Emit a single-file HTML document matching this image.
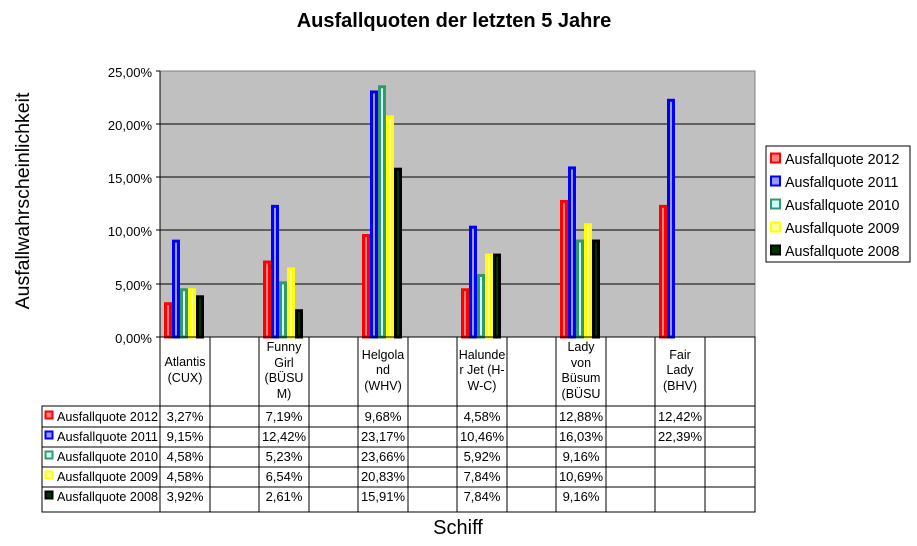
<!DOCTYPE html>
<html><head><meta charset="utf-8"><style>
html,body{margin:0;padding:0;background:#fff;}
svg{display:block;font-family:"Liberation Sans",Arial,sans-serif;}
</style></head><body>
<svg width="917" height="546" viewBox="0 0 917 546" xmlns="http://www.w3.org/2000/svg">
<text x="454" y="27" font-size="20" font-weight="bold" text-anchor="middle">Ausfallquoten der letzten 5 Jahre</text>
<text transform="translate(29,201) rotate(-90)" font-size="19.5" text-anchor="middle">Ausfallwahrscheinlichkeit</text>
<text x="458" y="534" font-size="20" text-anchor="middle">Schiff</text>
<rect x="160" y="71" width="595" height="266" fill="#c0c0c0" stroke="#808080" stroke-width="1"/>
<g stroke="#000" stroke-width="1">
<line x1="160" y1="124" x2="755" y2="124"/><line x1="160" y1="177" x2="755" y2="177"/>
<line x1="160" y1="230" x2="755" y2="230"/><line x1="160" y1="284" x2="755" y2="284"/>
<line x1="160" y1="71" x2="160" y2="337"/>
<line x1="156" y1="71" x2="160" y2="71"/><line x1="156" y1="124" x2="160" y2="124"/><line x1="156" y1="177" x2="160" y2="177"/><line x1="156" y1="230" x2="160" y2="230"/><line x1="156" y1="284" x2="160" y2="284"/><line x1="156" y1="337" x2="160" y2="337"/>
</g>
<g font-size="13" text-anchor="end">
<text x="152" y="77">25,00%</text><text x="152" y="130">20,00%</text><text x="152" y="183">15,00%</text><text x="152" y="236">10,00%</text><text x="152" y="290">5,00%</text><text x="152" y="343">0,00%</text>
</g>
<g id="bars" stroke-width="3"></g>
<g stroke="#000" stroke-width="1" fill="none">
<rect x="160" y="337" width="595" height="69"/>
<rect x="42" y="406" width="713" height="106"/>
<line x1="42" y1="427" x2="755" y2="427"/><line x1="42" y1="447" x2="755" y2="447"/><line x1="42" y1="467" x2="755" y2="467"/><line x1="42" y1="487" x2="755" y2="487"/>
<line x1="160" y1="406" x2="160" y2="512"/>
<line x1="210" y1="337" x2="210" y2="512"/><line x1="259" y1="337" x2="259" y2="512"/><line x1="309" y1="337" x2="309" y2="512"/><line x1="358" y1="337" x2="358" y2="512"/><line x1="408" y1="337" x2="408" y2="512"/><line x1="457" y1="337" x2="457" y2="512"/><line x1="507" y1="337" x2="507" y2="512"/><line x1="556" y1="337" x2="556" y2="512"/><line x1="606" y1="337" x2="606" y2="512"/><line x1="655" y1="337" x2="655" y2="512"/><line x1="705" y1="337" x2="705" y2="512"/>
</g>
<g font-size="12.5" text-anchor="middle">
<text x="185" y="366">Atlantis</text><text x="185" y="382">(CUX)</text>
<text x="284" y="351">Funny</text><text x="284" y="367">Girl</text><text x="284" y="382">(BÜSU</text><text x="284" y="398">M)</text>
<text x="383" y="359">Helgola</text><text x="383" y="374">nd</text><text x="383" y="390">(WHV)</text>
<text x="482" y="359">Halunde</text><text x="482" y="374">r Jet (H-</text><text x="482" y="390">W-C)</text>
<text x="581" y="351">Lady</text><text x="581" y="367">von</text><text x="581" y="382">Büsum</text><text x="581" y="398">(BÜSU</text>
<text x="680" y="359">Fair</text><text x="680" y="374">Lady</text><text x="680" y="390">(BHV)</text>
</g>
<g font-size="13" id="vals" text-anchor="middle"></g>
<g font-size="12.5" id="rowlbl"></g>
<rect x="766" y="146" width="144" height="116" fill="#fff" stroke="#000"/>
<g font-size="14.3" id="leg"></g>
<script>
var S=[["#ff0000","#ff8080"],["#0000ff","#9999ff"],["#339966","#ccffff"],["#ffff00","#ffff99"],["#000000","#003300"]];
var N=["Ausfallquote 2012","Ausfallquote 2011","Ausfallquote 2010","Ausfallquote 2009","Ausfallquote 2008"];
var D=[[3.27,9.15,4.58,4.58,3.92],[7.19,12.42,5.23,6.54,2.61],[9.68,23.17,23.66,20.83,15.91],[4.58,10.46,5.92,7.84,7.84],[12.88,16.03,9.16,10.69,9.16],[12.42,22.39,null,null,null]];
var ns="http://www.w3.org/2000/svg";
function el(p,t,a,tx){var e=document.createElementNS(ns,t);for(var k in a)e.setAttribute(k,a[k]);if(tx)e.textContent=tx;document.getElementById(p).appendChild(e);}
for(var c=0;c<6;c++)for(var s=0;s<5;s++){var v=D[c][s];if(v==null)continue;var h=v*10.64;var x=160+99*c+4+8*s;
el("bars","rect",{x:x+1.5,y:337-h+1.5,width:5,height:h-1.5,fill:S[s][1],stroke:S[s][0]});
el("vals","text",{x:185+99*c,y:421+20*s},v.toFixed(2).replace(".",",")+"%");}
for(var s=0;s<5;s++){el("rowlbl","rect",{x:45.5,y:411.5+20*s,width:7,height:7,fill:S[s][1],stroke:S[s][0],"stroke-width":2});
el("rowlbl","text",{x:57,y:421+20*s,textLength:101,lengthAdjust:"spacingAndGlyphs"},N[s]);
el("leg","rect",{x:771,y:153.5+23*s,width:9,height:9,fill:S[s][1],stroke:S[s][0],"stroke-width":2});
el("leg","text",{x:785,y:164+23*s},N[s]);}
</script>
</svg>
</body></html>
